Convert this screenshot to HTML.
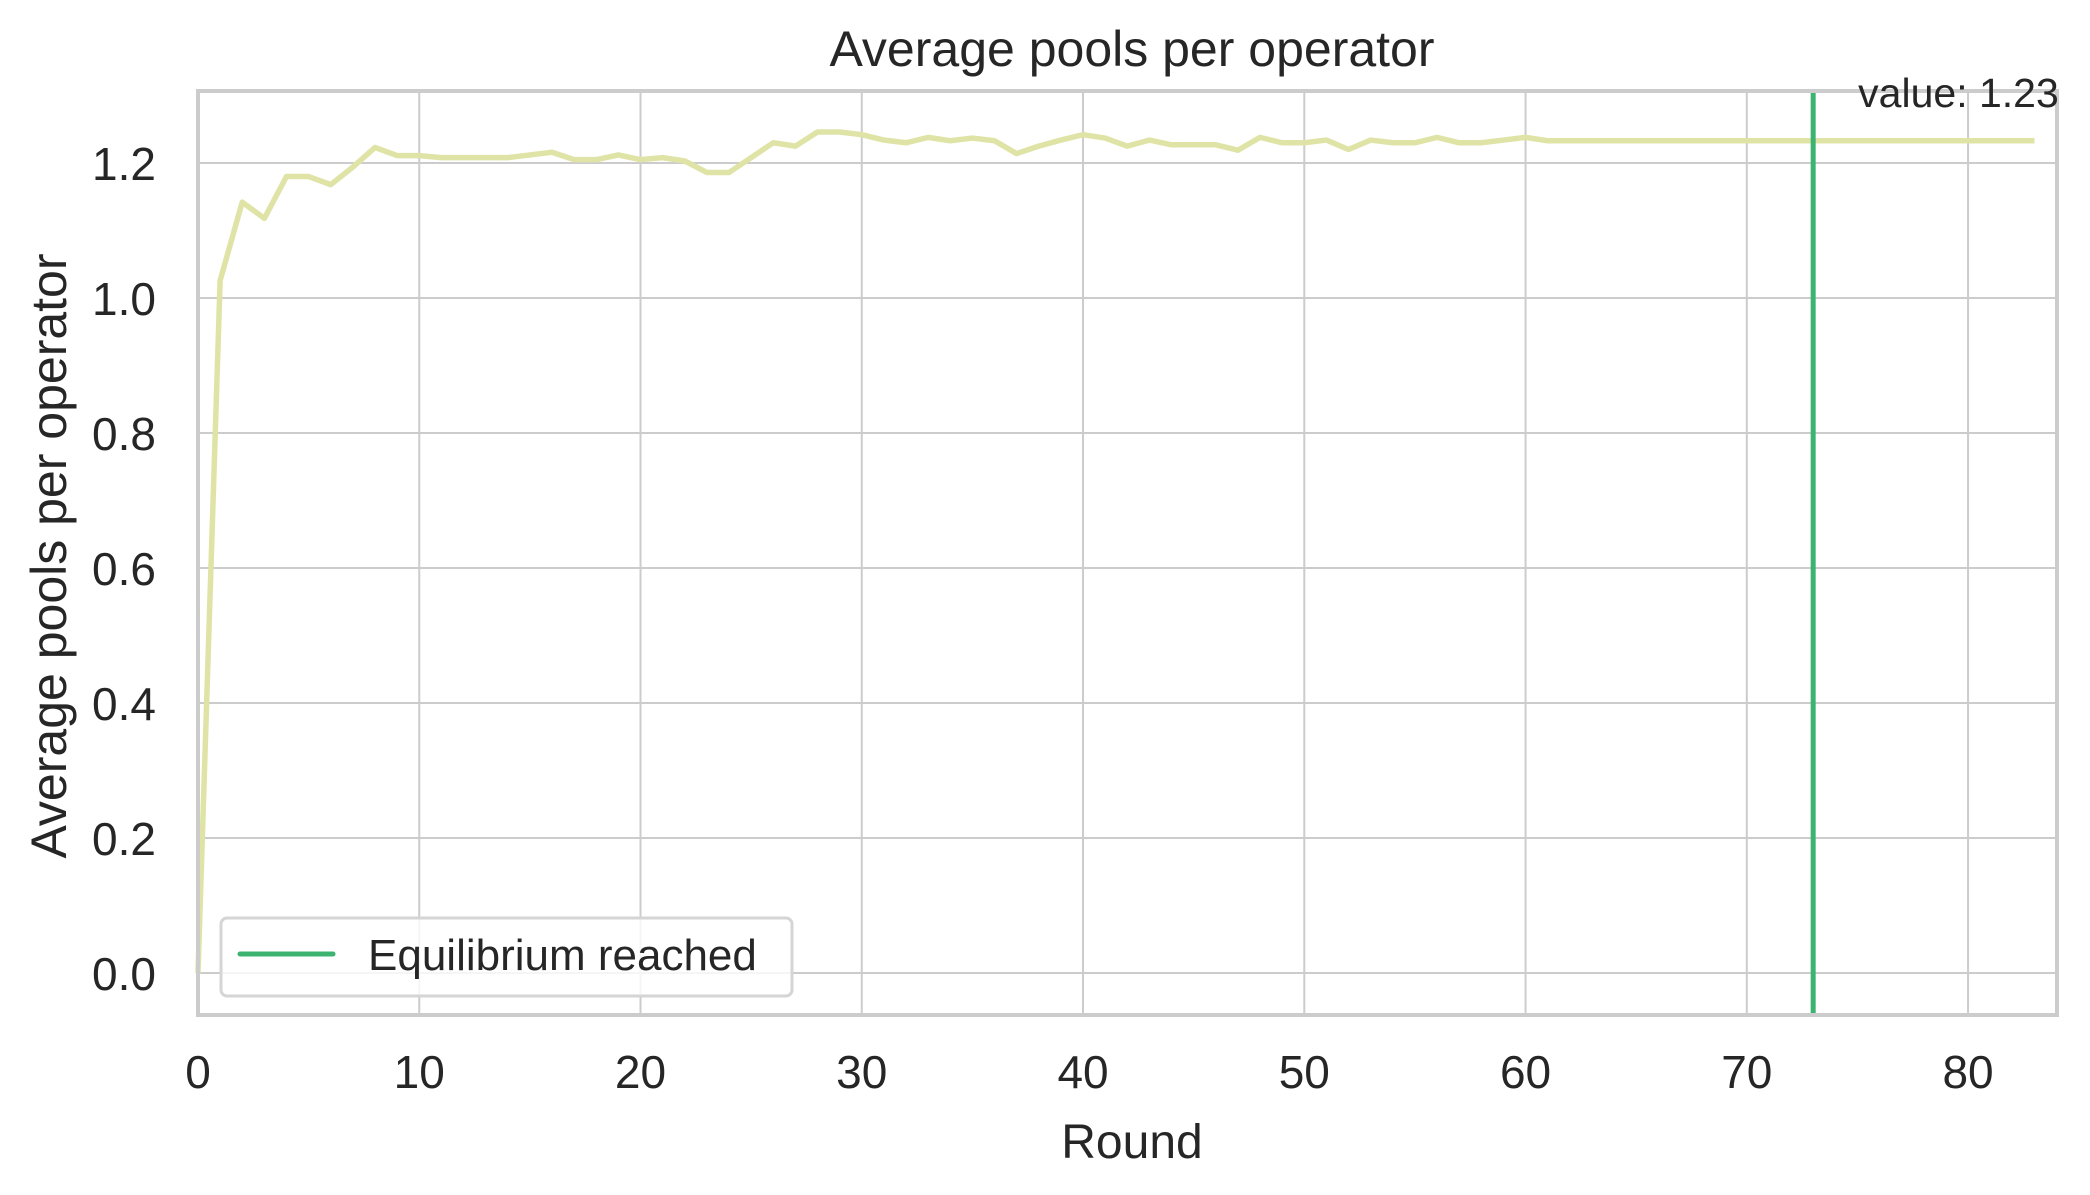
<!DOCTYPE html>
<html><head><meta charset="utf-8"><style>
body{margin:0;background:#fff;}
svg text{font-family:"Liberation Sans",sans-serif;fill:#262626;}
</style></head><body>
<svg id="chart" width="2090" height="1190" viewBox="0 0 2090 1190" xmlns="http://www.w3.org/2000/svg">
<g id="grid"></g>
<g id="series"></g>
<g id="axes"></g>
<text x="1132" y="66" font-size="50" text-anchor="middle">Average pools per operator</text>
<text x="1132" y="1158" font-size="48" text-anchor="middle">Round</text>
<text transform="translate(66,556) rotate(-90)" font-size="50" text-anchor="middle">Average pools per operator</text>
<g>
<rect x="221" y="918" width="571" height="78" rx="6" fill="#fff" fill-opacity="0.8" stroke="#d5d5d5" stroke-width="3"/>
<line x1="240" y1="954" x2="333" y2="954" stroke="#3cb371" stroke-width="5" stroke-linecap="round"/>
<text x="368" y="970" font-size="44">Equilibrium reached</text>
</g>
</svg>
<script>
const rounds = [];
const values = [0,1.026,1.142,1.118,1.180,1.180,1.168,1.194,1.223,1.211,1.211,1.208,1.208,1.208,1.208,1.212,1.216,1.205,1.205,1.212,1.205,1.208,1.203,1.186,1.186,1.208,1.230,1.225,1.246,1.246,1.242,1.234,1.230,1.238,1.233,1.237,1.233,1.214,1.225,1.234,1.242,1.237,1.225,1.234,1.227,1.227,1.227,1.219,1.238,1.230,1.230,1.234,1.220,1.234,1.230,1.230,1.238,1.230,1.230,1.234,1.238,1.233,1.233,1.233,1.233,1.233,1.233,1.233,1.233,1.233,1.233,1.233,1.233,1.233,1.233,1.233,1.233,1.233,1.233,1.233,1.233,1.233,1.233,1.233];
for (let i = 0; i < values.length; i++) rounds.push(i);
const xTicks = [0,10,20,30,40,50,60,70,80];
const yTicks = [0.0,0.2,0.4,0.6,0.8,1.0,1.2];
const equilibriumRound = [73];
const finalValue = ["value: 1.23"];

const L=198,R=2057,T=91,B=1015;
const xMin=0,xMax=84.02,yMin=-0.0622,yMax=1.3067;
const sx=v=>L+(v-xMin)/(xMax-xMin)*(R-L);
const sy=v=>B-(v-yMin)/(yMax-yMin)*(B-T);
const NS="http://www.w3.org/2000/svg";
function mk(tag,attrs,parent){const e=document.createElementNS(NS,tag);for(const k in attrs)e.setAttribute(k,attrs[k]);parent.appendChild(e);return e;}
const grid=document.getElementById('grid'),series=document.getElementById('series'),axes=document.getElementById('axes');
xTicks.forEach(t=>{
  const l=mk('line',{x1:sx(t),x2:sx(t),y1:T,y2:B,stroke:'#cccccc','stroke-width':2},grid);
  
  
  const tx=mk('text',{x:sx(t),y:1088,'font-size':46,'text-anchor':'middle'},axes);
  tx.textContent=t;
  
  
});
yTicks.forEach(t=>{
  const l=mk('line',{x1:L,x2:R,y1:sy(t),y2:sy(t),stroke:'#cccccc','stroke-width':2},grid);
  
  
  const tx=mk('text',{x:156,y:sy(t)+17,'font-size':46,'text-anchor':'end'},axes);
  tx.textContent=t.toFixed(1);
  
  
});
const sp=mk('rect',{x:L,y:T,width:R-L,height:B-T,fill:'none',stroke:'#cccccc','stroke-width':4},axes);


const pts=rounds.map((r,i)=>sx(r)+','+sy(values[i])).join(' ');
const pl=mk('polyline',{points:pts,fill:'none',stroke:'#dfe4a6','stroke-width':5.5,'stroke-linejoin':'round'},series);


equilibriumRound.forEach(r=>{
  const v=mk('line',{x1:sx(r),x2:sx(r),y1:T,y2:B,stroke:'#3cb371','stroke-width':5},series);
  
  
});
const ann=mk('text',{x:sx(equilibriumRound[0])+45,y:107,'font-size':41},document.getElementById('chart'));
ann.textContent=finalValue[0];
ann.setAttribute('fill','#000');


</script>
</body></html>
